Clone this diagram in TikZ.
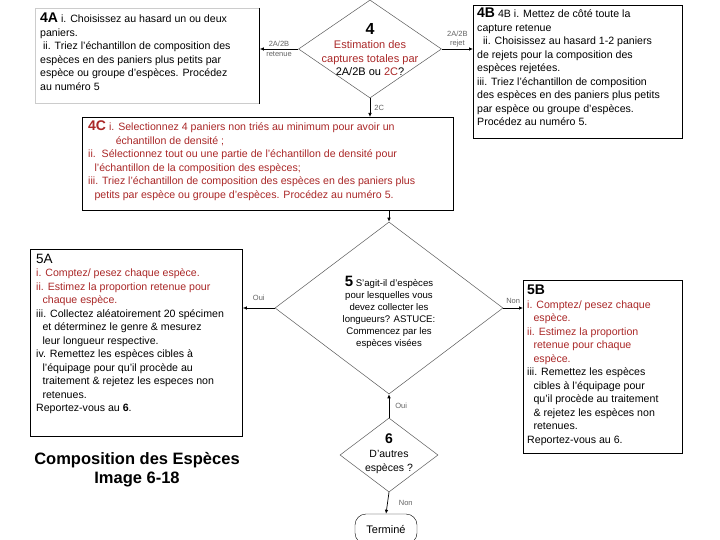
\documentclass[tikz,border=0pt]{standalone}
\usepackage{fontspec}
\setmainfont{Liberation Sans}
\usetikzlibrary{positioning,calc,shapes.geometric,arrows.meta}
\usepackage{xcolor}
\definecolor{sortred}{RGB}{170,40,40}
\definecolor{framegray}{RGB}{90,90,90}
\definecolor{labelgray}{RGB}{100,100,100}
\newcommand{\stepnum}[1]{{\fontsize{14}{14}\selectfont\bfseries #1}}
\newcommand{\redline}[1]{\textcolor{sortred}{#1}}

\begin{document}
\begin{tikzpicture}[x=1pt, y=-1pt,
    stepframe/.style={draw, line width=0.8pt, anchor=north west, inner sep=0pt},
    steptext/.style={anchor=north west, inner sep=0pt, align=left,
                     font=\fontsize{10.6}{13.5}\selectfont},
    question/.style={diamond, draw=framegray, line width=0.5pt, inner sep=0pt},
    qtext/.style={align=center, inner sep=0pt},
    flow/.style={line width=0.7pt, -{Latex[length=4pt,width=3.5pt]}},
    answer/.style={font=\fontsize{7.5}{8.5}\selectfont, text=labelgray, align=center, inner sep=1pt}
]
\useasboundingbox[fill=white] (0,0) rectangle (720,540);

% step 4 : decision + three branches
\node[question, minimum width=143, minimum height=98] (d4) at (370,49) {};
\node[qtext, font=\fontsize{11}{13.7}\selectfont] (q4) at ($(d4)+(0,1)$)
    {{\fontsize{16}{16}\selectfont\bfseries 4}\\
     \redline{Estimation des}\\
     \redline{captures totales par}\\
     2A/2B ou \redline{2C}?};

\node[stepframe, draw=black!20, minimum width=224, minimum height=95] (box4A) at (35,8) {};
\draw[line width=0.8pt] (box4A.north east) -- (box4A.south east);
\node[steptext] (txt4A) at ($(box4A.north west)+(5,5)$)
    {\stepnum{4A} i. Choisissez au hasard un ou deux\\
     paniers.\\
     \ ii. Triez l'échantillon de composition des\\
     espèces en des paniers plus petits par\\
     espèce ou groupe d'espèces. Procédez\\
     au numéro 5};

\node[stepframe, minimum width=209, minimum height=133] (box4B) at (473,5) {};
\node[steptext] (txt4B) at ($(box4B.north west)+(4,3)$)
    {\stepnum{4B} 4B i. Mettez de côté toute la\\
     capture retenue\\
     \ \ ii. Choisissez au hasard 1-2 paniers\\
     de rejets pour la composition des\\
     espèces rejetées.\\
     iii. Triez l'échantillon de composition\\
     des espèces en des paniers plus petits\\
     par espèce ou groupe d'espèces.\\
     Procédez au numéro 5.};

\node[stepframe, minimum width=371, minimum height=93] (box4C) at (82,117) {};
\node[steptext, text=sortred] (txt4C) at ($(box4C.north west)+(6,4)$)
    {\stepnum{4C} i. Selectionnez 4 paniers non triés au minimum pour avoir un\\
     \hspace*{2.6em}échantillon de densité ;\\
     ii.\ \ Sélectionnez tout ou une partie de l'échantillon de densité pour\\
     \hspace*{0.6em}l'échantillon de la composition des espèces;\\
     iii. Triez l'échantillon de composition des espèces en des paniers plus\\
     \hspace*{0.6em}petits par espèce ou groupe d'espèces. Procédez au numéro 5.};

\draw[flow] (d4.west) -- (d4.west -| box4A.east)
    node[answer, midway, above=1pt] {2A/2B} node[answer, midway, below=1pt] {retenue};
\draw[flow] (d4.east) -- (d4.east -| box4B.west)
    node[answer, midway, above=11pt] {2A/2B} node[answer, midway, above=1pt] {rejet};
\draw[flow] (d4.south) -- (d4.south |- box4C.north)
    node[answer, midway, right=3pt] {2C};

% step 5
\node[question, minimum width=228, minimum height=172] (d5) at (389,308) {};
\node[qtext, font=\fontsize{9.6}{12}\selectfont] (q5) at ($(d5)+(0,4)$)
    {{\fontsize{15}{15}\selectfont\bfseries 5} S'agit-il d'espèces\\
     pour lesquelles vous\\
     devez collecter les\\
     longueurs? ASTUCE:\\
     Commencez par les\\
     espèces visées};

\node[stepframe, minimum width=212, minimum height=187] (box5A) at (30,249) {};
\node[steptext] (txt5A) at ($(box5A.north west)+(6,5)$)
    {{\fontsize{13.5}{13.5}\selectfont 5A}\\
     \redline{i. Comptez/ pesez chaque espèce.}\\
     \redline{ii. Estimez la proportion retenue pour}\\
     \hspace*{0.6em}\redline{chaque espèce.}\\
     iii. Collectez aléatoirement 20 spécimen\\
     \hspace*{0.6em}et déterminez le genre \& mesurez\\
     \hspace*{0.6em}leur longueur respective.\\
     iv. Remettez les espèces cibles à\\
     \hspace*{0.6em}l'équipage pour qu'il procède au\\
     \hspace*{0.6em}traitement \& rejetez les especes non\\
     \hspace*{0.6em}retenues.\\
     Reportez-vous au \textbf{6}.};

\node[stepframe, minimum width=159, minimum height=173] (box5B) at (523,280) {};
\node[steptext] (txt5B) at ($(box5B.north west)+(4,5)$)
    {\stepnum{5B}\\
     \redline{i. Comptez/ pesez chaque}\\
     \hspace*{0.6em}\redline{espèce.}\\
     \redline{ii. Estimez la proportion}\\
     \hspace*{0.6em}\redline{retenue pour chaque}\\
     \hspace*{0.6em}\redline{espèce.}\\
     iii. Remettez les espèces\\
     \hspace*{0.6em}cibles à l'équipage pour\\
     \hspace*{0.6em}qu'il procède au traitement\\
     \hspace*{0.6em}\& rejetez les espèces non\\
     \hspace*{0.6em}retenues.\\
     Reportez-vous au 6.};

\draw[flow] (d5.north |- box4C.south) -- (d5.north);
\draw[flow] (d5.west) -- (d5.west -| box5A.east)
    node[answer, midway, above=6pt] {Oui};
\draw[flow] (d5.east) -- (d5.east -| box5B.west)
    node[answer, midway, above=3pt] {Non};

% step 6 and end
\node[question, minimum width=98, minimum height=74] (d6) at (389,455) {};
\node[qtext, font=\fontsize{10.5}{14}\selectfont] (q6) at ($(d6)+(0,-1)$)
    {{\fontsize{14}{14}\selectfont\bfseries 6}\\
     D'autres\\
     espèces ?};
\node[draw, rounded corners=11pt, minimum width=62, minimum height=30,
      font=\fontsize{11}{13}\selectfont] (term) at (386,529) {Terminé};

\draw[flow] (d6.north) -- (d5.south)
    node[answer, midway, right=5pt] {Oui};
\draw[flow] (d6.south) -- (term.north)
    node[answer, midway, right=10pt] {Non};

\node[align=center, font=\fontsize{16.5}{19}\selectfont\bfseries] (title) at (137,470)
    {Composition des Espèces\\Image 6-18};

\end{tikzpicture}
\end{document}
